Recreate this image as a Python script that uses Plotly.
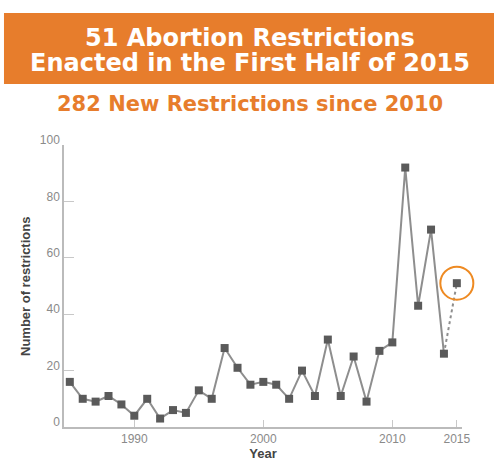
import plotly.graph_objects as go

years = list(range(1985, 2016))
restrictions = [16, 10, 9, 11, 8, 4, 10, 3, 6, 5, 13, 10, 28, 21, 15,
                16, 15, 10, 20, 11, 31, 11, 25, 9, 27, 30, 92, 43, 70, 26, 51]
x_tickvals = [1990, 2000, 2010, 2015]
y_tickvals = [0, 20, 40, 60, 80, 100]

title_line1 = "51 Abortion Restrictions"
title_line2 = "Enacted in the First Half of 2015"
subtitle = "282 New Restrictions since 2010"

ORANGE = "#E77D2C"
LINE = "#8E8E8E"
MARK = "#5A5A5A"
TICK = "#8A8A8A"

fig = go.Figure()

fig.add_trace(go.Scatter(
    x=years[-2:], y=restrictions[-2:], mode="lines",
    line=dict(color=LINE, width=2, dash="dot"), hoverinfo="skip", showlegend=False))
fig.add_trace(go.Scatter(
    x=years[:-1], y=restrictions[:-1], mode="lines",
    line=dict(color=LINE, width=2), showlegend=False))
fig.add_trace(go.Scatter(
    x=years, y=restrictions, mode="markers",
    marker=dict(symbol="square", size=8, color=MARK), showlegend=False))
# highlight ring around the latest (partial-year) point
fig.add_trace(go.Scatter(
    x=years[-1:], y=restrictions[-1:], mode="markers", cliponaxis=False,
    marker=dict(symbol="circle-open", size=33, color="#EE8A22", line=dict(width=2, color="#EE8A22")),
    hoverinfo="skip", showlegend=False))

# banner
fig.add_shape(type="rect", xref="paper", yref="paper",
              x0=-0.1508, x1=1.0804, y0=1.2163, y1=1.468,
              fillcolor=ORANGE, line=dict(width=0), layer="below")

FONT = "Liberation Sans"
TFONT = "DejaVu Sans"
fig.add_annotation(xref="paper", yref="paper", x=0.467, y=1.381, text="<b>%s</b>" % title_line1,
                   showarrow=False, font=dict(family=TFONT, size=24, color="white"),
                   xanchor="center", yanchor="middle")
fig.add_annotation(xref="paper", yref="paper", x=0.467, y=1.292, text="<b>%s</b>" % title_line2,
                   showarrow=False, font=dict(family=TFONT, size=24, color="white"),
                   xanchor="center", yanchor="middle")
fig.add_annotation(xref="paper", yref="paper", x=0.467, y=1.145, text="<b>%s</b>" % subtitle,
                   showarrow=False, font=dict(family=TFONT, size=21, color=ORANGE),
                   xanchor="center", yanchor="middle")
fig.add_annotation(xref="paper", yref="paper", x=-0.098, y=0.5, text="<b>Number of restrictions</b>",
                   showarrow=False, textangle=-90, font=dict(family=FONT, size=13, color="#444444"),
                   xanchor="center", yanchor="middle")

fig.update_layout(
    width=500, height=469,
    margin=dict(l=64, r=38, t=145, b=42),
    paper_bgcolor="white", plot_bgcolor="white",
    font=dict(family=FONT),
    xaxis=dict(range=[1984.55, 2015.4], tickvals=x_tickvals, ticks="inside", ticklen=7,
               tickcolor="#C8C8C8", tickwidth=1, showgrid=False, zeroline=False,
               showline=True, linecolor="#BBBBBB", linewidth=1.5, automargin=False,
               tickfont=dict(size=12, color=TICK), ticklabelstandoff=0,
               title=dict(text="<b>Year</b>", font=dict(size=13, color="#444444"), standoff=4)),
    yaxis=dict(range=[0, 100], tickvals=y_tickvals, ticks="inside", ticklen=10,
               tickcolor="#C8C8C8", tickwidth=1, showgrid=False, zeroline=False,
               showline=True, linecolor="#BBBBBB", linewidth=1.5, automargin=False,
               tickfont=dict(size=12, color=TICK), ticklabelshift=-5),
)

fig.write_html("out.html", config={"displayModeBar": False},
               post_script="document.body.style.margin='0';document.body.style.padding='0';")
